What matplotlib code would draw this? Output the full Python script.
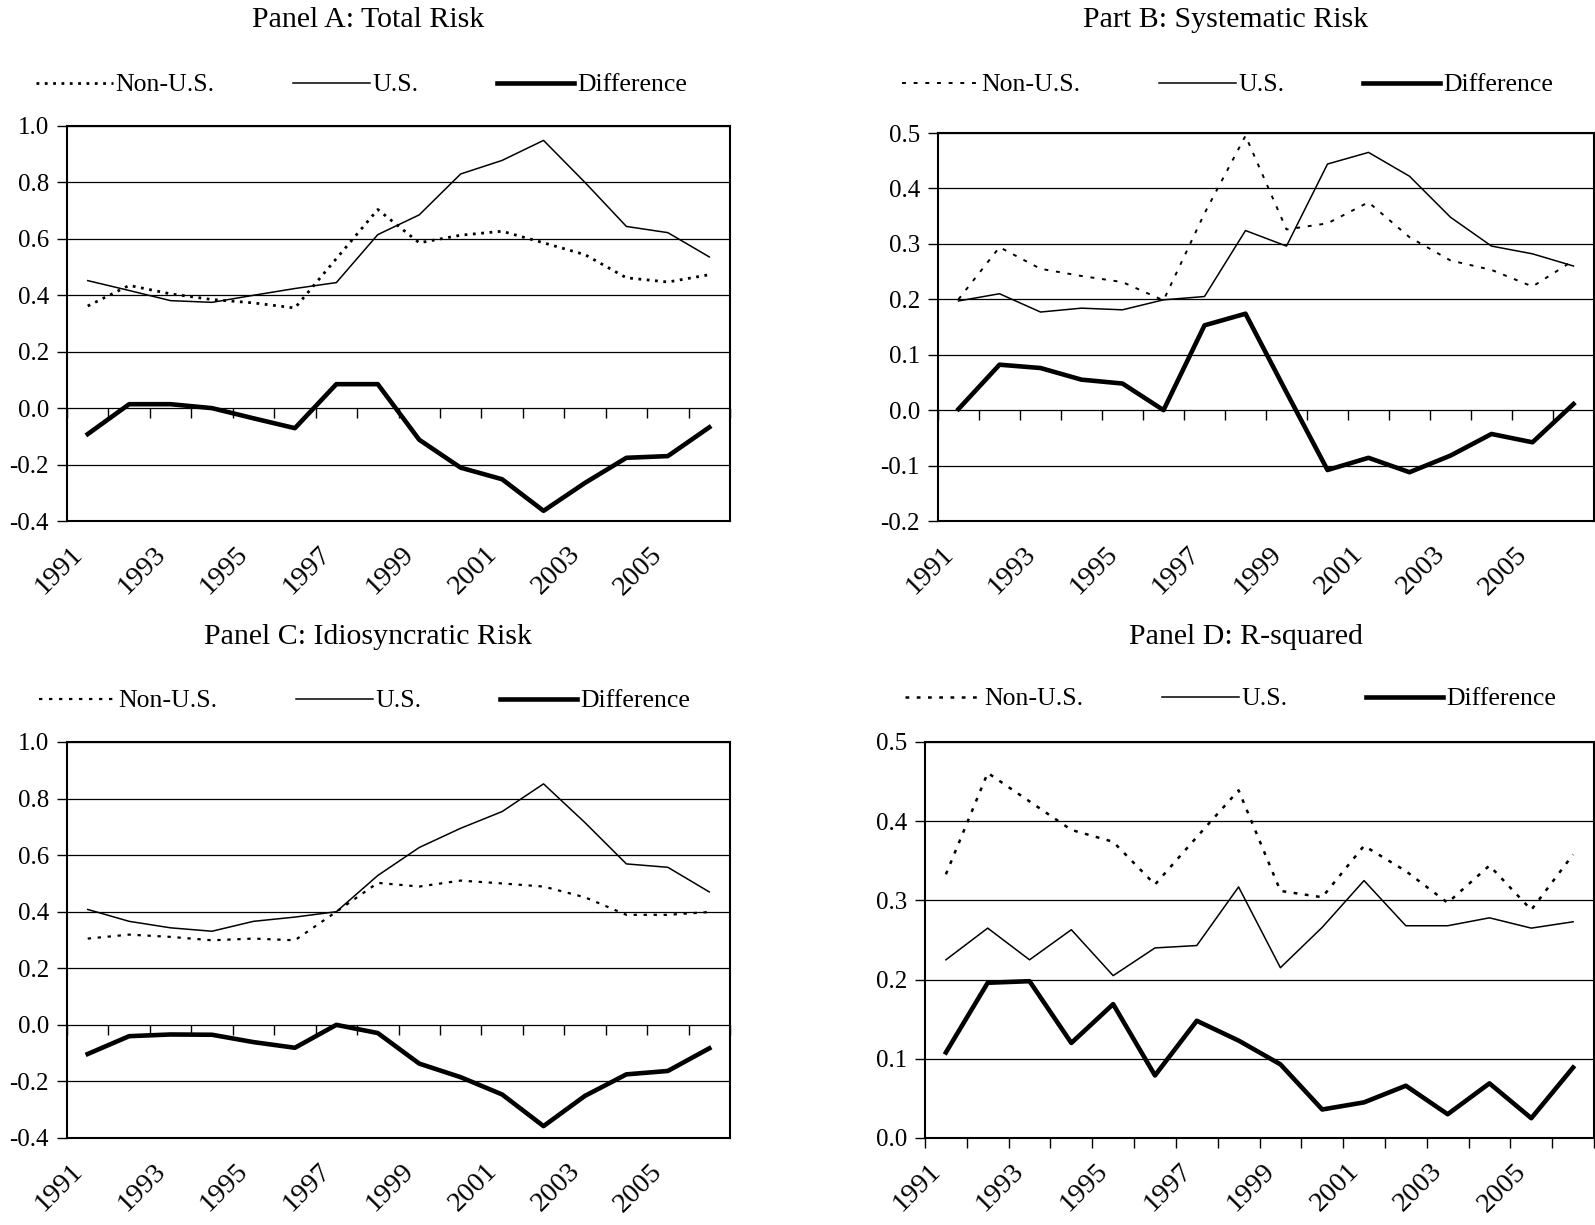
import matplotlib
matplotlib.use('Agg')
import matplotlib.pyplot as plt
from matplotlib.ticker import FormatStrFormatter

plt.rcParams.update({'font.family': 'Liberation Serif',
                     'font.size': 18,
                     'axes.unicode_minus': False,
                     })

years = list(range(1991, 2007))

# Panel A: total risk
a_non_us = [0.362, 0.435, 0.405, 0.385, 0.373, 0.355, 0.530, 0.704, 0.586, 0.613, 0.627, 0.586, 0.544, 0.462, 0.447, 0.473]
a_us = [0.452, 0.417, 0.381, 0.375, 0.400, 0.424, 0.445, 0.615, 0.685, 0.830, 0.878, 0.949, 0.800, 0.644, 0.622, 0.536]
a_diff = [-0.092, 0.014, 0.014, 0.0, -0.036, -0.071, 0.085, 0.085, -0.112, -0.211, -0.252, -0.364, -0.265, -0.176, -0.170, -0.068]

# Panel B: systematic risk
b_non_us = [0.200, 0.294, 0.255, 0.242, 0.231, 0.198, 0.355, 0.495, 0.326, 0.337, 0.375, 0.312, 0.270, 0.253, 0.223, 0.270]
b_us = [0.197, 0.210, 0.177, 0.184, 0.181, 0.199, 0.205, 0.324, 0.296, 0.444, 0.465, 0.422, 0.348, 0.296, 0.282, 0.260]
b_diff = [0.002, 0.082, 0.076, 0.055, 0.048, 0.0, 0.153, 0.174, 0.032, -0.108, -0.086, -0.112, -0.082, -0.043, -0.058, 0.011]

# Panel C: idiosyncratic risk
c_non_us = [0.305, 0.319, 0.311, 0.299, 0.305, 0.299, 0.400, 0.502, 0.489, 0.510, 0.500, 0.489, 0.451, 0.389, 0.389, 0.399]
c_us = [0.408, 0.366, 0.343, 0.331, 0.366, 0.381, 0.400, 0.528, 0.627, 0.695, 0.754, 0.852, 0.715, 0.569, 0.557, 0.470]
c_diff = [-0.103, -0.040, -0.034, -0.035, -0.061, -0.081, 0.0, -0.029, -0.137, -0.185, -0.246, -0.358, -0.251, -0.175, -0.163, -0.083]

# Panel D: R-squared
d_non_us = [0.333, 0.461, 0.425, 0.389, 0.374, 0.320, 0.380, 0.439, 0.312, 0.304, 0.369, 0.337, 0.297, 0.344, 0.288, 0.358]
d_us = [0.225, 0.265, 0.225, 0.263, 0.205, 0.240, 0.243, 0.317, 0.215, 0.266, 0.325, 0.268, 0.268, 0.278, 0.265, 0.273]
d_diff = [0.108, 0.196, 0.198, 0.120, 0.169, 0.079, 0.148, 0.123, 0.093, 0.036, 0.045, 0.066, 0.030, 0.069, 0.025, 0.089]

W, H = 1595, 1225
fig = plt.figure(figsize=(W / 100, H / 100), dpi=100)


def px_axes(left, right, top, bottom):
    return fig.add_axes([left / W, 1 - bottom / H, (right - left) / W, (bottom - top) / H])


panels = [
    # title, title pos, axes box (px), ylim, data, dotted style, dotted width, legend pos
    ('Panel A: Total Risk', (368, 20), (67, 730, 126, 521), (-0.4, 1.0, 0.2),
     (a_non_us, a_us, a_diff), (0, (1, 2)), 2.0, (36, 85)),
    ('Part B: Systematic Risk', (1226, 20), (938, 1594, 133, 521), (-0.2, 0.5, 0.1),
     (b_non_us, b_us, b_diff), (0, (2, 4)), 1.4, (902, 85)),
    ('Panel C: Idiosyncratic Risk', (368, 637), (67, 730, 742, 1138), (-0.4, 1.0, 0.2),
     (c_non_us, c_us, c_diff), (0, (1.5, 3)), 1.6, (39, 701)),
    ('Panel D: R-squared', (1246, 637), (925, 1594, 742, 1138), (0.0, 0.5, 0.1),
     (d_non_us, d_us, d_diff), (0, (1.5, 3)), 1.8, (905, 699)),
]

x = list(range(len(years)))
boundaries = [i - 0.5 for i in range(len(years) + 1)]
label_shift = 0.43  # excel puts the rotated year labels a little left of the category centre

for title, tpos, box, (lo, hi, step), (non_us, us, diff), dots, dlw, lpos in panels:
    ax = px_axes(*box)
    l1, = ax.plot(x, non_us, color='black', lw=dlw, ls=dots, label='Non-U.S.')
    l2, = ax.plot(x, us, color='black', lw=1.1, label='U.S.')
    l3, = ax.plot(x, diff, color='black', lw=3.3, label='Difference')

    ax.set_xlim(-0.5, len(years) - 0.5)
    ax.set_ylim(lo, hi)
    nt = int(round((hi - lo) / step))
    ax.set_yticks([lo + i * step for i in range(nt + 1)])
    ax.yaxis.set_major_formatter(FormatStrFormatter('%.1f'))
    ax.yaxis.grid(True, color='black', lw=0.9)
    ax.tick_params(axis='y', direction='out', length=7, width=1, pad=6)
    for s in ax.spines.values():
        s.set_linewidth(1.5)

    # year labels every other category at the bottom
    ax.set_xticks([i - label_shift for i in x[::2]])
    ax.set_xticklabels([str(y) for y in years[::2]], rotation=45, ha='right',
                       va='top', rotation_mode='anchor', fontsize=20.5)
    ax.tick_params(axis='x', length=0, pad=15)

    # category tick marks along the zero line
    sec = ax.secondary_xaxis((0 - lo) / (hi - lo))
    sec.set_xticks(boundaries)
    sec.xaxis.set_ticks_position('bottom')
    sec.tick_params(axis='x', direction='out', length=7, width=1,
                    labelbottom=False, labeltop=False)
    for s in sec.spines.values():
        s.set_visible(False)

    fig.text(tpos[0] / W, 1 - tpos[1] / H, title, ha='center', va='center', fontsize=21.5)
    fig.legend(handles=[l1, l2, l3], loc='center left',
               bbox_to_anchor=(lpos[0] / W, 1 - lpos[1] / H), ncol=3, frameon=False,
               handlelength=3.0, handletextpad=0.1, columnspacing=3.05,
               borderpad=0, borderaxespad=0, fontsize=18.5)

fig.savefig('out.png', dpi=100)
